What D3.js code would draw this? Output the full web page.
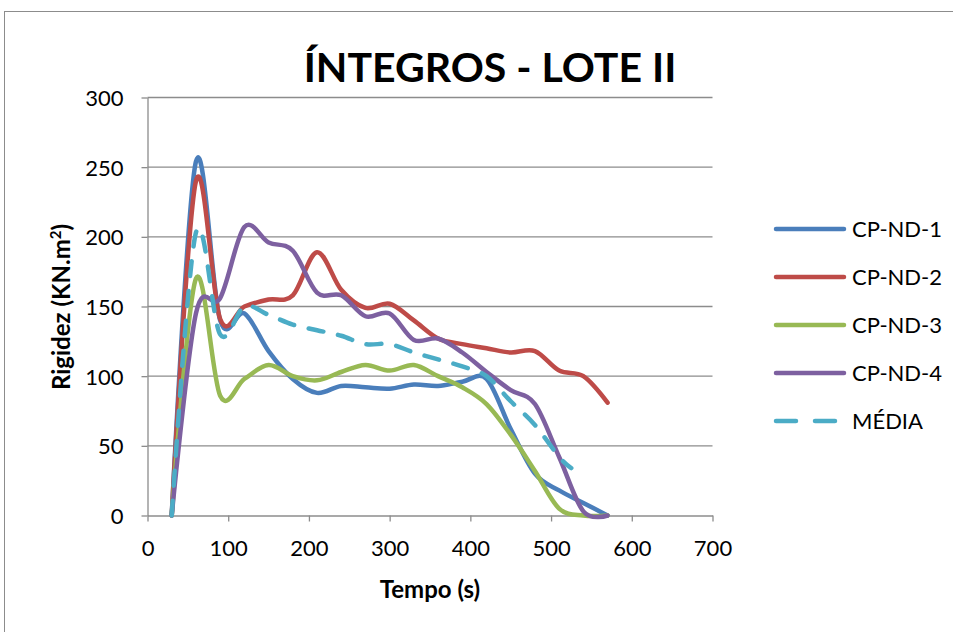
<!DOCTYPE html>
<html>
<head>
<meta charset="utf-8">
<script src="https://cdn.jsdelivr.net/npm/d3@7"></script>
<style>
  body { margin: 0; background: #fff; }
  svg { display: block; font-family: Lato, "Open Sans", sans-serif; }
</style>
</head>
<body>
<div id="chart"></div>
<script>
// Zeitpunkte (s) und Messreihen
const tempo = [30, 60, 90, 120, 150, 180, 210, 240, 270, 300, 330, 360, 390, 420, 450, 480, 510, 540, 570];
const cpnd1 = [0, 254, 140, 145, 118, 98, 88, 93, 92, 91, 94, 93, 96, 98, 62, 30, 18, 9, 0];
const cpnd2 = [0, 240, 141, 150, 155, 158, 189, 162, 149, 152, 140, 127, 123, 120, 117, 118, 104, 100, 81];
const cpnd3 = [0, 170, 86, 98, 108, 100, 97, 103, 108, 104, 108, 100, 92, 80, 58, 32, 5, 0, 0];
const cpnd4 = [0, 145, 156, 207, 196, 190, 160, 158, 143, 145, 126, 127, 117, 103, 90, 80, 42, 3, 0];
const tempoMedia = [30, 60, 90, 120, 150, 180, 210, 240, 270, 300, 330, 360, 390, 420, 450, 480, 510, 525];
const media = [0, 203, 130, 150, 144, 137, 133, 129, 123, 123, 117, 112, 107, 100, 82, 65, 42, 34];

const seriesNames = ["CP-ND-1", "CP-ND-2", "CP-ND-3", "CP-ND-4", "MÉDIA"];
const xTicks = [0, 100, 200, 300, 400, 500, 600, 700];
const yTicks = [0, 50, 100, 150, 200, 250, 300];

const series = [
  { name: seriesNames[0], x: tempo, y: cpnd1, color: "#4a7ebb", dash: null },
  { name: seriesNames[1], x: tempo, y: cpnd2, color: "#be4b48", dash: null },
  { name: seriesNames[2], x: tempo, y: cpnd3, color: "#98b954", dash: null },
  { name: seriesNames[3], x: tempo, y: cpnd4, color: "#7d60a0", dash: null },
  { name: seriesNames[4], x: tempoMedia, y: media, color: "#4bacc6", dash: "15,15" }
];

const width = 953, height = 632;

const svg = d3.select("#chart").append("svg")
  .attr("width", width)
  .attr("height", height);

// Rahmen (rechts/unten abgeschnitten)
svg.append("rect")
  .attr("x", 4.5).attr("y", 11.5)
  .attr("width", 1000).attr("height", 700)
  .attr("fill", "none")
  .attr("stroke", "#8c8c8c");

const x = d3.scaleLinear().domain([0, 700]).range([147.5, 712.5]);
const y = d3.scaleLinear().domain([0, 300]).range([515.5, 97.5]);

// Gitterlinien
svg.append("g")
  .selectAll("line")
  .data(yTicks.filter(d => d > 0))
  .join("line")
  .attr("x1", x(0)).attr("x2", x(700))
  .attr("y1", d => y(d)).attr("y2", d => y(d))
  .attr("stroke", "#8c8c8c").attr("stroke-width", 1.3);

// Achsen
const xAxis = svg.append("g")
  .attr("transform", `translate(0,${y(0)})`)
  .call(d3.axisBottom(x).tickValues(xTicks).tickSize(6).tickPadding(19).tickSizeOuter(0));
const yAxis = svg.append("g")
  .attr("transform", `translate(${x(0)},0)`)
  .call(d3.axisLeft(y).tickValues(yTicks).tickSize(6).tickPadding(18).tickSizeOuter(0));

[xAxis, yAxis].forEach(a => {
  a.select(".domain").attr("stroke", "#8c8c8c").attr("stroke-width", 1.3);
  a.selectAll(".tick line").attr("stroke", "#8c8c8c").attr("stroke-width", 1.3);
  a.selectAll(".tick text")
    .attr("fill", "#000")
    .style("font-size", "22px")
    .style("font-family", "Lato, sans-serif");
});
yAxis.selectAll(".tick text").attr("dy", "0.36em");

// Kurven
const line = d3.line()
  .x(d => x(d[0]))
  .y(d => y(d[1]))
  .curve(d3.curveCardinal.tension(0));

svg.append("g")
  .selectAll("path")
  .data(series)
  .join("path")
  .attr("d", s => line(s.x.map((t, i) => [t, s.y[i]])))
  .attr("fill", "none")
  .attr("stroke", s => s.color)
  .attr("stroke-width", 4.5)
  .attr("stroke-linecap", "round")
  .attr("stroke-linejoin", "round")
  .attr("stroke-dasharray", s => s.dash);

// Titel
svg.append("text")
  .attr("x", 490).attr("y", 82)
  .attr("text-anchor", "middle")
  .style("font-size", "41px")
  .style("font-weight", "bold")
  .text("ÍNTEGROS - LOTE II");

// Achsentitel
svg.append("text")
  .attr("x", 430).attr("y", 598)
  .attr("text-anchor", "middle")
  .style("font-size", "24px")
  .style("font-weight", "bold")
  .text("Tempo (s)");

const yTitle = svg.append("text")
  .attr("transform", "translate(70,307) rotate(-90)")
  .attr("text-anchor", "middle")
  .style("font-size", "24px")
  .style("font-weight", "bold");
yTitle.append("tspan").text("Rigidez (KN.m");
yTitle.append("tspan").attr("dy", -9).style("font-size", "15px").text("2");
yTitle.append("tspan").attr("dy", 9).text(")");

// Legende
const legend = svg.append("g").attr("transform", "translate(776,229)");
series.forEach((s, i) => {
  const item = legend.append("g").attr("transform", `translate(0,${i * 48})`);
  item.append("line")
    .attr("x1", 0).attr("x2", 68)
    .attr("stroke", s.color)
    .attr("stroke-width", 4.5)
    .attr("stroke-linecap", "round")
    .attr("stroke-dasharray", s.dash ? "20,19" : null);
  item.append("text")
    .attr("x", 76).attr("dy", "0.36em")
    .style("font-size", "22px")
    .text(s.name);
});
</script>
</body>
</html>
